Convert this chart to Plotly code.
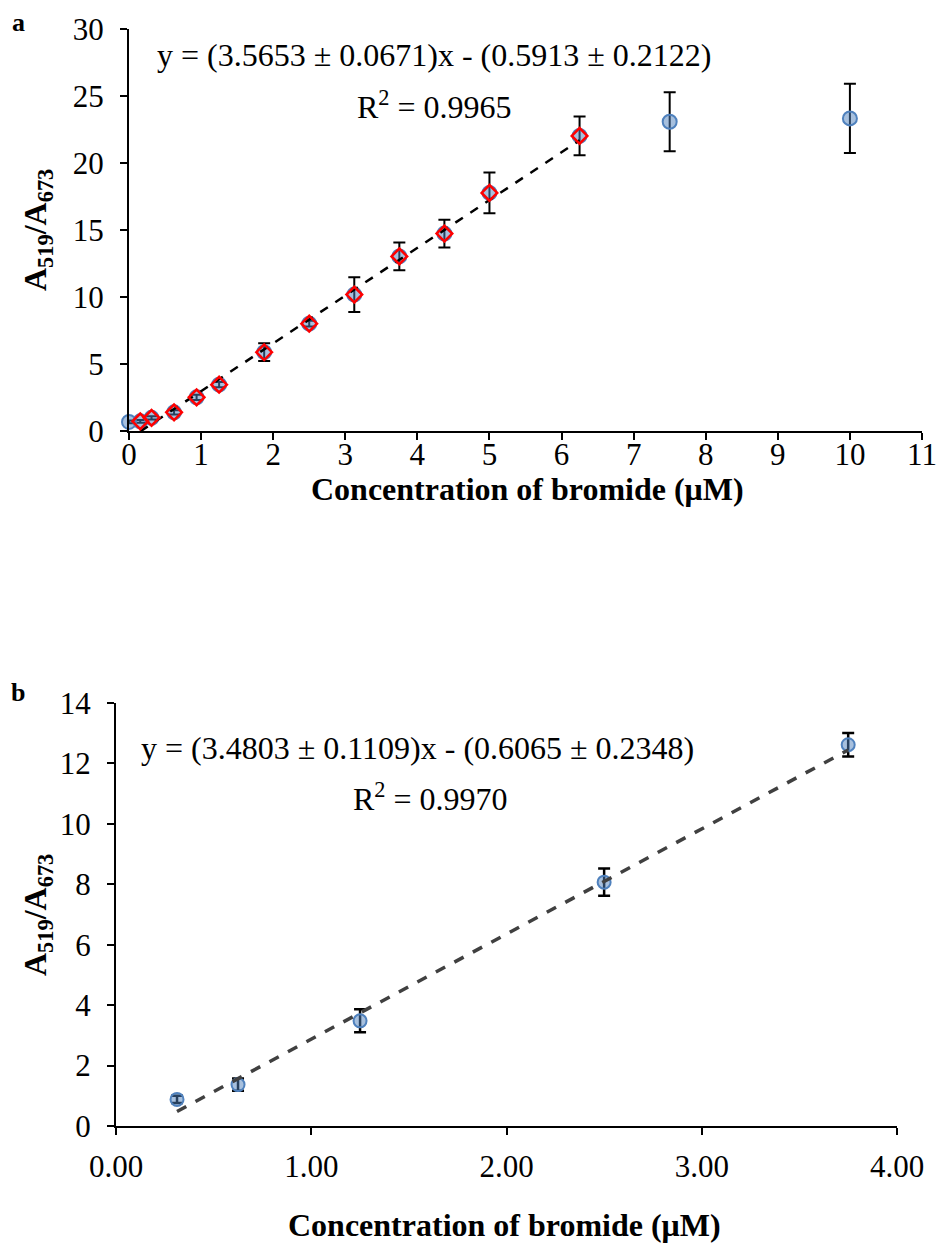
import numpy as np
import plotly.graph_objects as go

# ---------------- data: panel a ----------------
conc_a = [0, 0.15625, 0.3125, 0.625, 0.9375, 1.25, 1.875, 2.5, 3.125, 3.75, 4.375, 5.0, 6.25, 7.5, 10.0]
ratio_a = [0.68, 0.72, 0.98, 1.39, 2.51, 3.46, 5.88, 8.01, 10.18, 13.03, 14.73, 17.77, 22.02, 23.08, 23.33]
err_a = [0.10, 0.10, 0.12, 0.15, 0.20, 0.20, 0.66, 0.22, 1.30, 1.04, 1.03, 1.52, 1.45, 2.20, 2.58]
fit_conc_a = [0.15625, 0.3125, 0.625, 0.9375, 1.25, 1.875, 2.5, 3.125, 3.75, 4.375, 5.0, 6.25]
fit_ratio_a = [0.72, 0.98, 1.39, 2.51, 3.46, 5.88, 8.01, 10.18, 13.03, 14.73, 17.77, 22.02]
slope_a, intercept_a = 3.5653, -0.5913

# ---------------- data: panel b ----------------
conc_b = [0.3125, 0.625, 1.25, 2.5, 3.75]
ratio_b = [0.88, 1.37, 3.48, 8.07, 12.62]
err_b = [0.12, 0.20, 0.38, 0.45, 0.39]
slope_b, intercept_b = 3.4803, -0.6065

eq_a = "y = (3.5653 ± 0.0671)x - (0.5913 ± 0.2122)"
r2_a = "R<sup>2</sup> = 0.9965"
eq_b = "y = (3.4803 ± 0.1109)x - (0.6065 ± 0.2348)"
r2_b = "R<sup>2</sup> = 0.9970"
xtitle = "Concentration of bromide (μM)"
ytitle = "A<sub>519</sub>/A<sub>673</sub>"

FONT = "Liberation Serif"
W, H = 938, 1243
TICK = 31
TITLE = 32
EQ = 32

fig = go.Figure()

blue_fill = "rgba(79,129,189,0.5)"
blue_line = "#4F81BD"

# panel a: all points with error bars
fig.add_trace(go.Scatter(
    x=conc_a, y=ratio_a, mode="markers", xaxis="x", yaxis="y",
    marker=dict(symbol="circle", size=14, color=blue_fill, line=dict(color=blue_line, width=2)),
    error_y=dict(type="data", array=err_a, visible=True, color="black", thickness=2, width=6),
    cliponaxis=False, showlegend=False))
# fit line a
xa = np.array([fit_conc_a[0], fit_conc_a[-1]])
fig.add_trace(go.Scatter(
    x=xa, y=slope_a * xa + intercept_a, mode="lines", xaxis="x", yaxis="y",
    line=dict(color="black", width=2.5, dash="dash"), showlegend=False, cliponaxis=False))
# red diamonds on fitted points
fig.add_trace(go.Scatter(
    x=fit_conc_a, y=fit_ratio_a, mode="markers", xaxis="x", yaxis="y",
    marker=dict(symbol="diamond-open", size=12, color="#FF0000", line=dict(color="#FF0000", width=2.5)),
    cliponaxis=False, showlegend=False))

# panel b
fig.add_trace(go.Scatter(
    x=conc_b, y=ratio_b, mode="markers", xaxis="x2", yaxis="y2",
    marker=dict(symbol="circle", size=13, color=blue_fill, line=dict(color=blue_line, width=2)),
    error_y=dict(type="data", array=err_b, visible=True, color="black", thickness=2.5, width=6),
    cliponaxis=False, showlegend=False))
xb = np.array([conc_b[0], conc_b[-1]])
fig.add_trace(go.Scatter(
    x=xb, y=slope_b * xb + intercept_b, mode="lines", xaxis="x2", yaxis="y2",
    line=dict(color="#404040", width=3.5, dash="dash"), showlegend=False, cliponaxis=False))

def px_x(p):
    return p / W

def px_y(p):
    return 1 - p / H

axis_common = dict(showline=True, linecolor="black", linewidth=2, ticks="outside",
                   ticklen=7, tickwidth=2, tickcolor="black", showgrid=False, zeroline=False,
                   automargin=False,
                   tickfont=dict(family=FONT, size=TICK, color="black"))

fig.update_layout(
    width=W, height=H,
    margin=dict(l=0, r=0, t=0, b=0, autoexpand=False),
    paper_bgcolor="white", plot_bgcolor="white",
    showlegend=False,
    xaxis=dict(domain=[px_x(129), px_x(922)], range=[0, 11], dtick=1, tick0=0,
               anchor="y", ticklabelstandoff=-12, **axis_common),
    yaxis=dict(domain=[px_y(431), px_y(29)], range=[0, 30], dtick=5, tick0=0,
               anchor="x", ticklabelstandoff=10, **axis_common),
    xaxis2=dict(domain=[px_x(116), px_x(897)], range=[0, 4], dtick=1, tick0=0,
                tickformat=".2f", anchor="y2", ticklabelstandoff=5, **axis_common),
    yaxis2=dict(domain=[px_y(1126), px_y(703)], range=[0, 14], dtick=2, tick0=0,
                anchor="x2", ticklabelstandoff=10, **axis_common),
)

ann = []
def add_text(text, x, y, size, bold=False, angle=0):
    ann.append(dict(text=f"<b>{text}</b>" if bold else text, x=px_x(x), y=px_y(y),
                    xref="paper", yref="paper", showarrow=False, textangle=angle,
                    xanchor="center", yanchor="middle",
                    font=dict(family=FONT, size=size, color="black")))

add_text("a", 18, 22, 26, bold=True)
add_text("b", 18, 692, 26, bold=True)
add_text(eq_a, 434, 55, EQ)
add_text(r2_a, 434, 105, EQ)
add_text(eq_b, 417, 748, EQ)
add_text(r2_b, 430, 797, EQ)
add_text(xtitle, 527, 489, TITLE, bold=True)
add_text(xtitle, 505, 1225, TITLE, bold=True)
add_text(ytitle, 37, 230, TITLE, bold=True, angle=-90)
add_text(ytitle, 37, 915, TITLE, bold=True, angle=-90)
fig.update_layout(annotations=ann)

# remove the browser's default 8px page margin so the figure fills the window exactly
fig.write_html("out.html", config={"displayModeBar": False},
               post_script="document.body.style.margin='0';")
